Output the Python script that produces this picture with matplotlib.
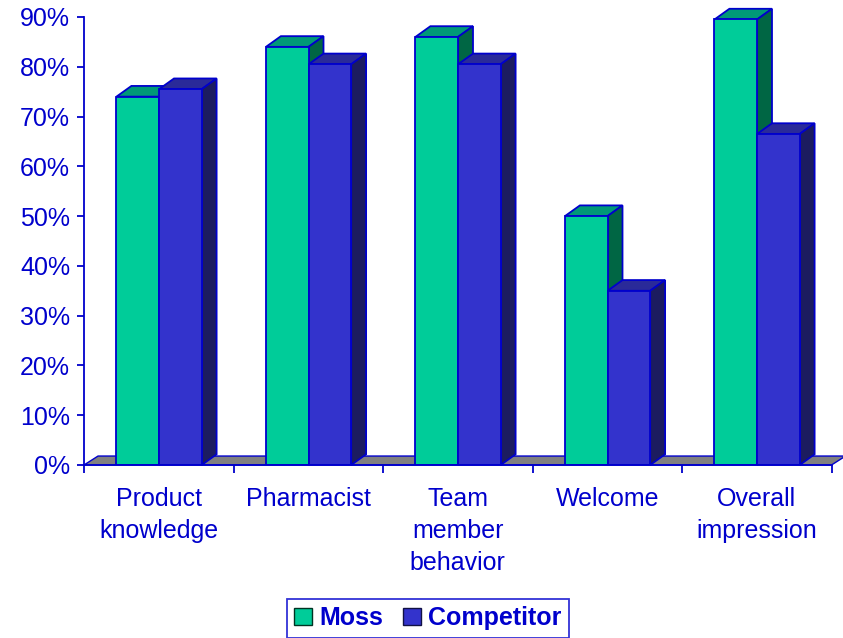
import numpy as np
import matplotlib.pyplot as plt
from matplotlib.patches import Polygon, Patch

plt.rcParams['font.family'] = ['Liberation Sans', 'DejaVu Sans']

categories = ["Product\nknowledge", "Pharmacist", "Team\nmember\nbehavior", "Welcome", "Overall\nimpression"]
moss = [74, 84, 86, 50, 89.5]
competitor = [75.5, 80.5, 80.5, 35, 66.5]
yticks = np.arange(0, 91, 10)

blue = "#0000CC"
moss_faces = ("#00CC99", "#009977", "#006644")   # front, top, side
comp_faces = ("#3333CC", "#2A2A99", "#1C1C60")

fig = plt.figure(figsize=(8.43, 6.38), dpi=100)
ax = fig.add_axes([84 / 843, 1 - 465 / 638, 747.5 / 843, 448 / 638])
ax.set_xlim(0, len(categories))
ax.set_ylim(0, 90)

# depth offsets for the fake 3d look
ddx, ddy = 0.1, 2.15
fdx, fdy = 0.094, 1.8

# floor slab
ax.add_patch(Polygon([(0, 0), (len(categories), 0), (len(categories) + fdx, fdy), (fdx, fdy)],
                     closed=True, facecolor="#808080", edgecolor=blue, lw=1, zorder=1, clip_on=False))

w = 0.285
x = np.arange(len(categories))


def bar3d(xs, vals, faces, z):
    front, top, side = faces
    bars = ax.bar(xs, vals, width=w, align="edge", color=front, edgecolor=blue, lw=1.3, zorder=3)
    for b in bars:
        x0, x1, h = b.get_x(), b.get_x() + b.get_width(), b.get_height()
        ax.add_patch(Polygon([(x0, h), (x1, h), (x1 + ddx, h + ddy), (x0 + ddx, h + ddy)],
                             closed=True, facecolor=top, edgecolor=blue, lw=1.3, zorder=z, clip_on=False))
        ax.add_patch(Polygon([(x1, 0), (x1 + ddx, ddy), (x1 + ddx, h + ddy), (x1, h)],
                             closed=True, facecolor=side, edgecolor=blue, lw=1.3, zorder=z, clip_on=False))


# moss depth faces sit behind the competitor bar
bar3d(x + 0.217, moss, moss_faces, 2)
bar3d(x + 0.217 + w, competitor, comp_faces, 2.5)

for s in ["top", "right"]:
    ax.spines[s].set_visible(False)
for s in ["left", "bottom"]:
    ax.spines[s].set_color(blue)
    ax.spines[s].set_linewidth(1.3)
    ax.spines[s].set_zorder(4)

ax.set_yticks(yticks)
ax.set_yticklabels([f"{v}%" for v in yticks])
ax.tick_params(axis="y", colors=blue, labelsize=18, length=5, width=1.3, pad=5, direction="out")

ax.set_xticks(np.arange(len(categories) + 1))
ax.set_xticklabels([])
ax.set_xticks(x + 0.5, minor=True)
ax.set_xticklabels(categories, minor=True, linespacing=1.43)
ax.tick_params(axis="x", which="major", colors=blue, length=6, width=1.3, direction="out")
ax.tick_params(axis="x", which="minor", length=0, pad=15.5, labelsize=18, labelcolor=blue)

handles = [Patch(facecolor=moss_faces[0], edgecolor="#003322", label="Moss"),
           Patch(facecolor=comp_faces[0], edgecolor="#111144", label="Competitor")]
leg = fig.legend(handles=handles, loc="center", bbox_to_anchor=(428 / 843, 1 - 618 / 638), ncol=2,
                 frameon=True, fancybox=False, handlelength=0.7, handleheight=0.7, handletextpad=0.3,
                 columnspacing=0.8, borderpad=0.3, prop={"size": 18, "weight": "bold"})
leg.get_frame().set_edgecolor(blue)
leg.get_frame().set_linewidth(1.3)
for t in leg.get_texts():
    t.set_color(blue)

fig.savefig("out.png", dpi=100)
